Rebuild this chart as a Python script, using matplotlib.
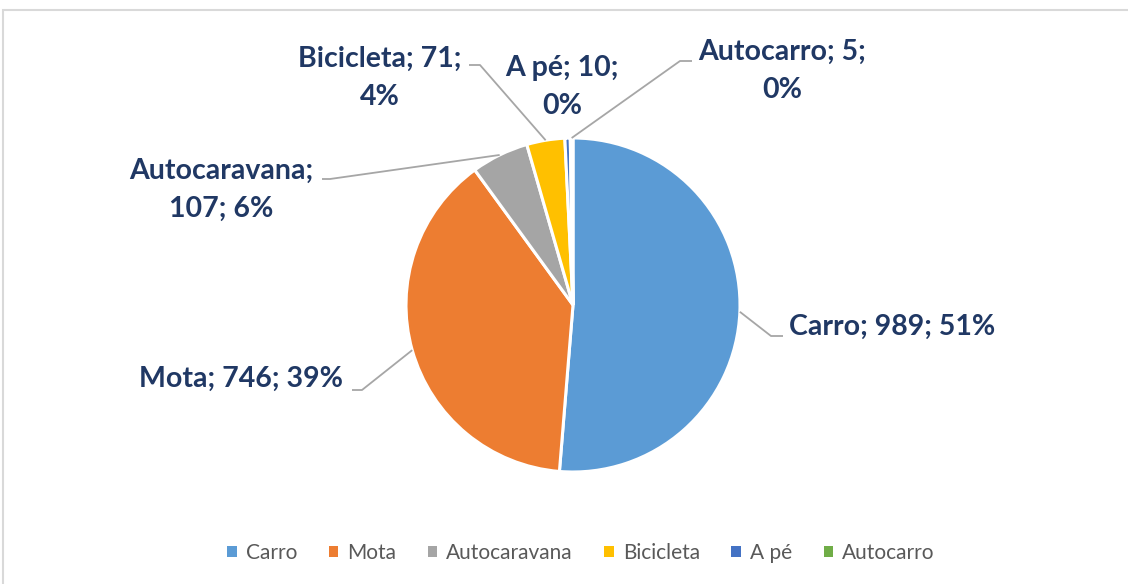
import numpy as np
import matplotlib
matplotlib.use("Agg")
import matplotlib.pyplot as plt
from matplotlib.patches import Rectangle, Patch

categories = ["Carro", "Mota", "Autocaravana", "Bicicleta", "A pé", "Autocarro"]
values = [989, 746, 107, 71, 10, 5]
colors = ["#5B9BD5", "#ED7D31", "#A5A5A5", "#FFC000", "#4472C4", "#70AD47"]

W, H = 1128, 584
fig = plt.figure(figsize=(W / 100, H / 100), dpi=100)
ax = fig.add_axes([0, 0, 1, 1])

cx, cy, R = 573, H - 305, 167
wedges, _ = ax.pie(values, colors=colors, startangle=90, counterclock=False,
                   center=(cx, cy), radius=R,
                   wedgeprops=dict(edgecolor="white", linewidth=2.2))
ax.set_xlim(0, W)
ax.set_ylim(0, H)
ax.set_aspect("auto")
ax.axis("off")

# percentages rounded so that they sum to 100 (largest remainder, as Excel does)
total = sum(values)
raw = [100 * v / total for v in values]
pcts = [int(np.floor(r)) for r in raw]
rem = sorted(range(len(raw)), key=lambda i: raw[i] - pcts[i], reverse=True)
for i in rem[:100 - sum(pcts)]:
    pcts[i] += 1

label_color = "#203864"
line_color = "#A6A6A6"
font = ["Lato", "DejaVu Sans"]

# label layout: (text x, text y(top-down px), elbow x, elbow y, end x, split)
layout = {
    "Carro": (892, 327, 771, 336, 783, 0),
    "Mota": (241, 379, 362, 390, 352, 0),
    "Autocaravana": (221, 190, 330, 179, 322, 1),
    "Bicicleta": (380, 78, 480, 65, 469, 2),
    "A pé": (562, 87, None, None, None, 2),
    "Autocarro": (782, 71, 680, 61, 692, 2),
}

for w, cat, v, pct in zip(wedges, categories, values, pcts):
    tx, ty, ex, ey, endx, split = layout[cat]
    if split == 0:
        s = f"{cat}; {v}; {pct}%"
    elif split == 1:
        s = f"{cat};\n{v}; {pct}%"
    else:
        s = f"{cat}; {v};\n{pct}%"
    ax.text(tx, H - ty, s, ha="center", va="center", fontsize=20.5,
            fontweight="bold", color=label_color, family=font, linespacing=1.55)
    if ex is not None:
        ang = np.deg2rad((w.theta1 + w.theta2) / 2)
        sx, sy = cx + R * np.cos(ang), cy + R * np.sin(ang)
        ax.plot([sx, ex, endx], [sy, H - ey, H - ey], color=line_color, lw=1.3,
                solid_capstyle="butt")

# chart border
ax.add_patch(Rectangle((3, -20), W + 20, H - 10 + 20, fill=False,
                       edgecolor="#D9D9D9", lw=1.5, clip_on=False))

handles = [Patch(facecolor=c, edgecolor="none") for c in colors]
leg = fig.legend(handles, categories, loc="center", ncol=6,
                 bbox_to_anchor=(581 / W, 1 - 553 / H), frameon=False,
                 prop={"family": font, "size": 15}, labelcolor="#595959",
                 handlelength=0.45, handleheight=0.45, handletextpad=0.45,
                 columnspacing=1.5)

fig.savefig("out.png", dpi=100, facecolor="white")
